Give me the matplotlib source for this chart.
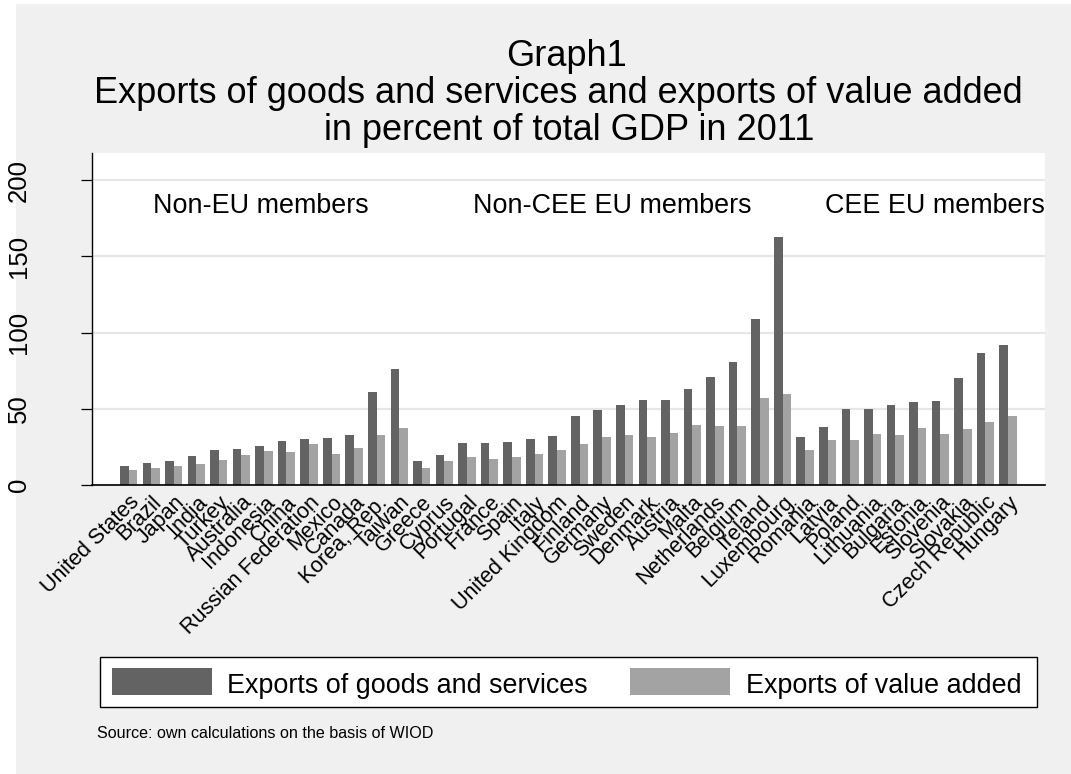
import numpy as np
import matplotlib
matplotlib.use("Agg")
import matplotlib.pyplot as plt
from matplotlib.patches import Rectangle

plt.rcParams['font.family'] = ['Liberation Sans', 'DejaVu Sans']

countries = ["United States", "Brazil", "Japan", "India", "Turkey", "Australia",
             "Indonesia", "China", "Russian Federation", "Mexico", "Canada",
             "Korea, Rep.", "Taiwan",
             "Greece", "Cyprus", "Portugal", "France", "Spain", "Italy",
             "United Kingdom", "Finland", "Germany", "Sweden", "Denmark",
             "Austria", "Malta", "Netherlands", "Belgium", "Ireland", "Luxembourg",
             "Romania", "Latvia", "Poland", "Lithuania", "Bulgaria", "Estonia",
             "Slovenia", "Slovakia", "Czech Republic", "Hungary"]

exports_gs = [12.4, 14.4, 15.7, 19.0, 23.1, 23.6, 25.8, 28.8, 30.3, 30.8, 32.5,
              60.9, 76.4,
              15.7, 19.9, 27.5, 27.5, 28.4, 30.3, 32.1, 45.4, 48.9, 52.2, 55.5,
              55.9, 62.7, 71.0, 80.6, 108.7, 162.9,
              31.7, 38.0, 50.0, 50.0, 52.2, 54.6, 55.0, 69.9, 86.7, 92.1]

exports_va = [9.8, 11.4, 12.7, 14.0, 16.2, 19.9, 22.1, 21.6, 26.6, 20.3, 24.5,
              32.5, 37.6,
              11.4, 15.7, 18.3, 17.2, 18.3, 20.3, 23.1, 26.9, 31.2, 32.8, 31.2,
              34.1, 39.1, 38.4, 38.4, 56.8, 59.6,
              22.7, 29.5, 29.5, 33.6, 32.5, 37.1, 33.4, 36.7, 41.3, 45.0]

series_labels = ["Exports of goods and services", "Exports of value added"]
group_labels = ["Non-EU members", "Non-CEE EU members", "CEE EU members"]
yticks = [0, 50, 100, 150, 200]
title_lines = ["Graph1",
               "Exports of goods and services and exports of value added",
               "in percent of total GDP in 2011"]
source_note = "Source: own calculations on the basis of WIOD"

DARK = '#636363'
LIGHT = '#a3a3a3'
BG = '#f0f0f0'

W, H = 1071, 774
fig = plt.figure(figsize=(W / 100, H / 100), dpi=100)
fig.patch.set_facecolor('white')
fig.patches.append(Rectangle((16 / W, 0), 1 - 16 / W, 1 - 4 / H,
                             transform=fig.transFigure, facecolor=BG,
                             edgecolor='none', zorder=-10))

def fx(px):
    return px / W

def fy(py):
    return 1 - py / H

ax = fig.add_axes([fx(92), fy(485), (1045 - 92) / W, (485 - 153) / H])
ax.set_facecolor('white')

x = np.arange(len(countries))
w = 0.384
ax.bar(x - w / 2, exports_gs, w, color=DARK, linewidth=0, zorder=3)
ax.bar(x + w / 2, exports_va, w, color=LIGHT, linewidth=0, zorder=3)

ax.set_xlim(-1.625, len(countries) - 1 + 1.64)
ax.set_ylim(0, 217.9)

for s in ['top', 'right']:
    ax.spines[s].set_visible(False)
ax.spines['left'].set_color('black')
ax.spines['left'].set_linewidth(1.0)
ax.spines['bottom'].set_color('black')
ax.spines['bottom'].set_linewidth(1.2)
ax.spines['bottom'].set_zorder(5)

ax.set_yticks(yticks)
ax.set_yticklabels([str(v) for v in yticks], rotation=90, va='center', fontsize=18.5)
ax.tick_params(axis='y', length=8, width=0.9, pad=36, color='black')
ax.yaxis.grid(True, color='#e6e6e6', linewidth=1.6)
ax.set_axisbelow(True)

ax.set_xticks(x)
ax.set_xticklabels(countries, rotation=45, ha='right', va='top',
                   rotation_mode='anchor', fontsize=15.5)
ax.tick_params(axis='x', length=0, pad=5)

# group annotations
for lab, xf in zip(group_labels, [0.1768, 0.546, 0.885]):
    ax.text(xf, 0.818, lab, transform=ax.transAxes, ha='center', va='baseline',
            fontsize=19.4)

# title
for line, cx, by in zip(title_lines, [566, 558.5, 569], [65.7, 102.7, 140.0]):
    fig.text(fx(cx), fy(by), line, ha='center', va='baseline', fontsize=26)

# legend (manual)
fig.patches.append(Rectangle((fx(99.5), fy(706.7)), (1036.5 - 99.5) / W,
                             (706.7 - 656.7) / H, transform=fig.transFigure,
                             facecolor='white', edgecolor='black', linewidth=1.0,
                             zorder=1))
for col, sx, tx, lab in [(DARK, 112, 227, series_labels[0]),
                         (LIGHT, 630, 746, series_labels[1])]:
    fig.patches.append(Rectangle((fx(sx), fy(695)), 100 / W, (695 - 668.3) / H,
                                 transform=fig.transFigure, facecolor=col,
                                 edgecolor='none', zorder=2))
    fig.text(fx(tx), fy(693), lab, ha='left', va='baseline', fontsize=19.4,
             zorder=3)

fig.text(fx(97), fy(738), source_note, ha='left', va='baseline', fontsize=11.6)

fig.savefig('out.png', dpi=100, facecolor=fig.get_facecolor())
